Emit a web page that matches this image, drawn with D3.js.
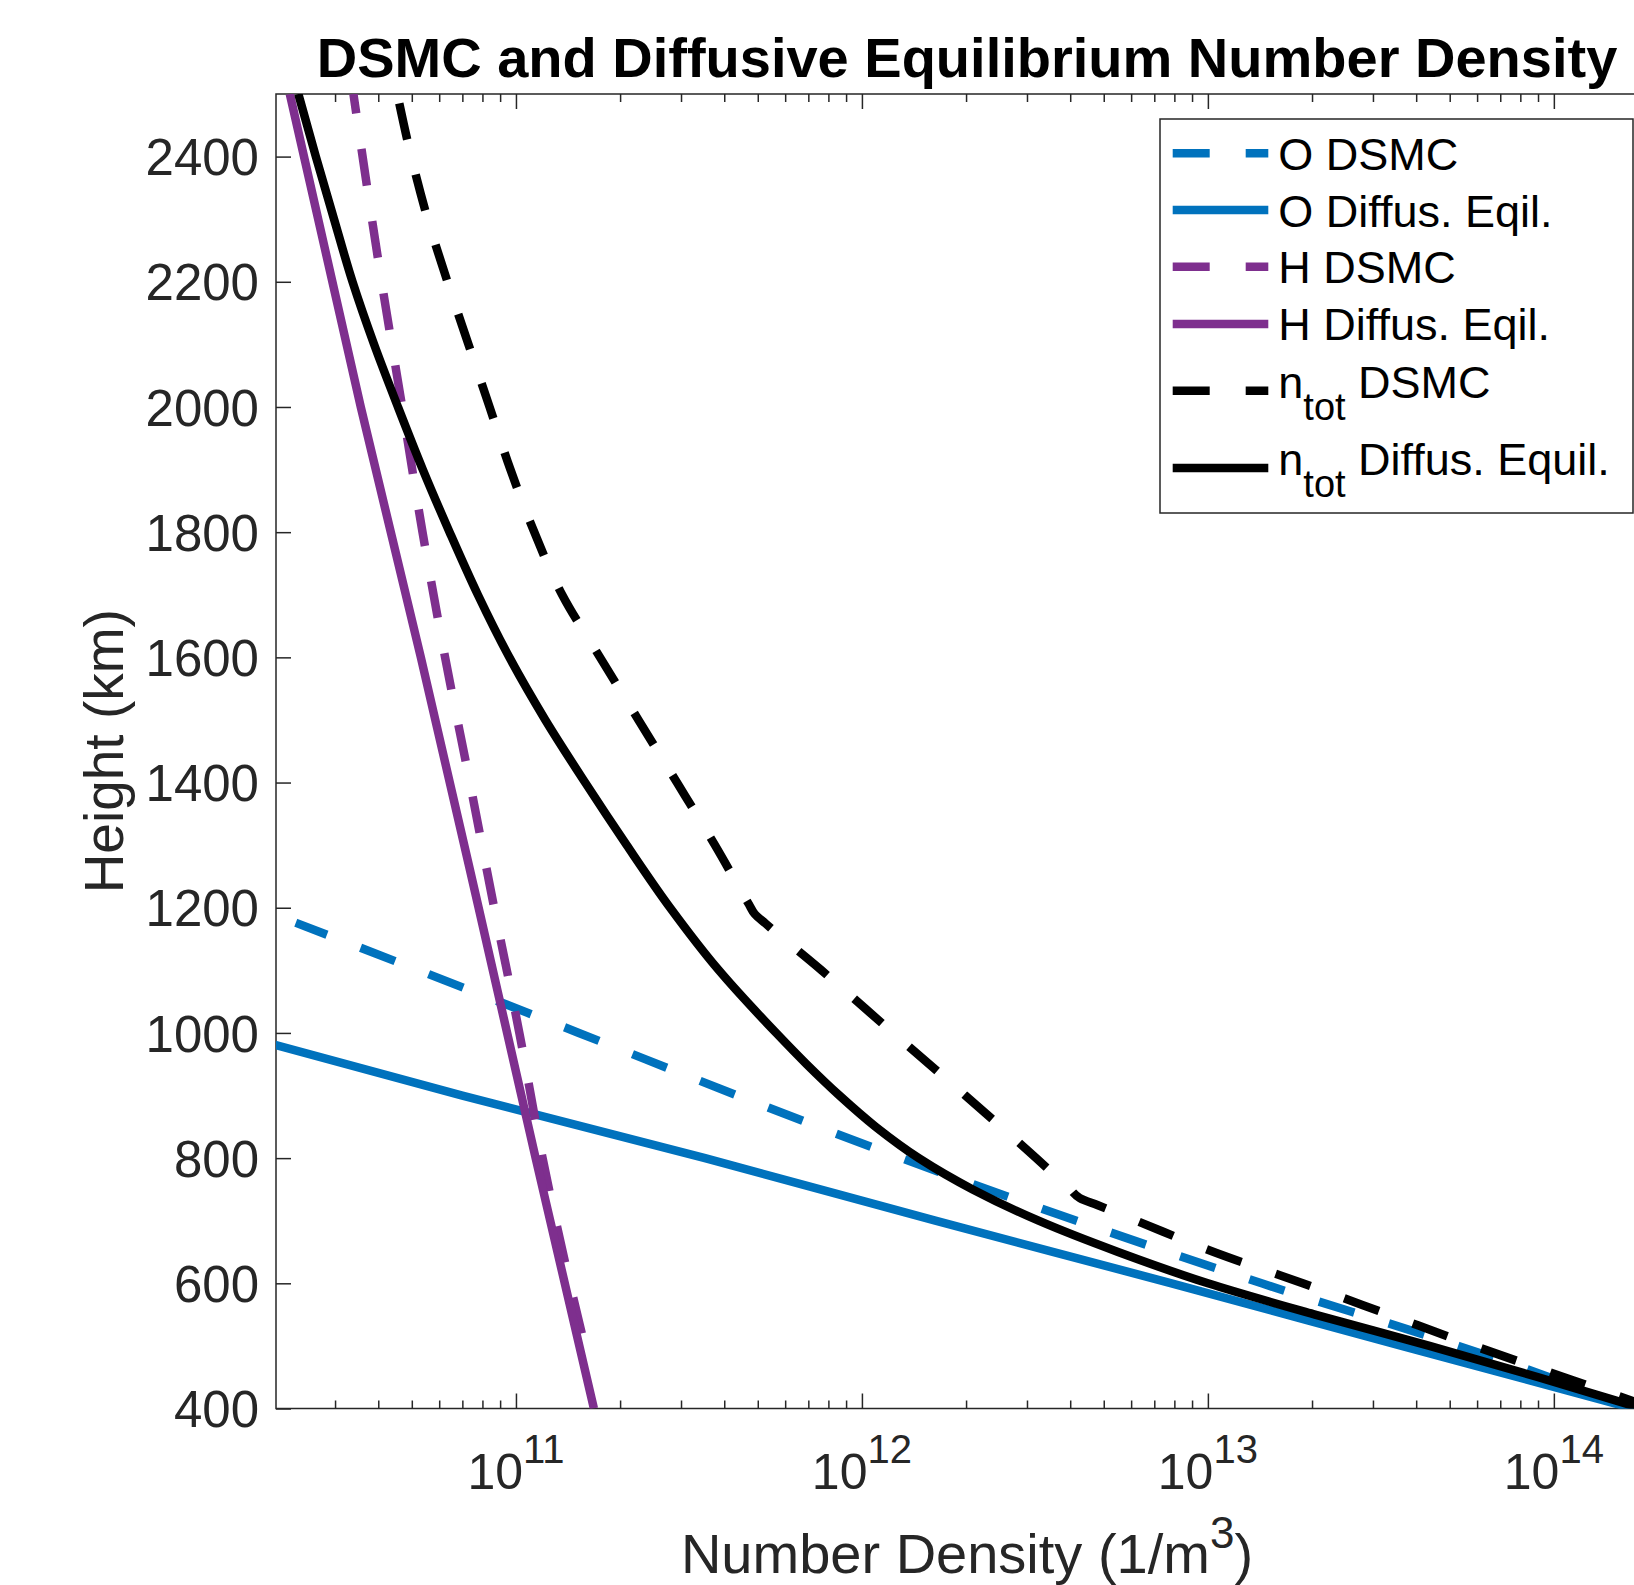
<!DOCTYPE html>
<html>
<head>
<meta charset="utf-8">
<script src="https://cdn.jsdelivr.net/npm/d3@7"></script>
<style>
  body { margin: 0; background: #fff; }
  svg { display: block; font-family: "Liberation Sans", Arial, Helvetica, sans-serif; }
  text { white-space: pre; }
</style>
</head>
<body>
<div id="chart"></div>
<script>
// heights in km, number densities in 1/m^3
var oDsmcHeight  = [400, 450, 500, 600, 700, 800, 900, 1000, 1100, 1176];
var oDsmcDensity = [1.66e14, 9.7e13, 5.3e13, 1.43e13, 4.17e12, 1.30e12, 4.37e11, 1.52e11, 5.24e10, 2.31e10];

var oDiffHeight  = [400, 500, 600, 700, 800, 900, 1000];
var oDiffDensity = [1.70e14, 3.63e13, 7.85e12, 1.63e12, 3.52e11, 7.0e10, 1.50e10];

var hDsmcHeight  = [520, 600, 800, 1000, 1200, 1400, 1600, 1800, 2000, 2200, 2500];
var hDsmcDensity = [1.55e11, 1.432e11, 1.194e11, 1.023e11, 8.65e10, 7.36e10, 6.24e10, 5.37e10, 4.69e10, 4.09e10, 3.39e10];

var hDiffHeight  = [400, 800, 1200, 1600, 2000, 2500];
var hDiffDensity = [1.68e11, 1.14e11, 7.8e10, 5.31e10, 3.56e10, 2.22e10];

var totDsmcHeight  = [400, 450, 500, 550, 600, 650, 700, 725, 736, 750, 800, 900, 1000, 1100, 1175, 1190, 1205,
                      1300, 1400, 1500, 1600, 1700, 1800, 1900, 2000, 2100, 2200, 2300, 2400, 2500];
var totDsmcDensity = [1.95e14, 1.07e14, 5.89e13, 3.33e13, 1.88e13, 1.04e13, 6.21e12, 4.79e12, 4.27e12, 4.00e12,
                      3.19e12, 1.99e12, 1.23e12, 7.64e11, 5.26e11, 4.90e11, 4.72e11, 3.76e11, 2.92e11, 2.26e11,
                      1.75e11, 1.36e11, 1.13e11, 9.64e10, 8.39e10, 7.29e10, 6.34e10, 5.56e10, 4.98e10, 4.54e10];

var totDiffHeight  = [400, 450, 500, 550, 600, 650, 700, 750, 800, 850, 900, 950, 1000, 1100, 1200, 1300, 1400,
                      1500, 1600, 1700, 1800, 1900, 2000, 2100, 2200, 2300, 2400, 2500];
var totDiffDensity = [1.80e14, 9.02e13, 4.37e13, 2.04e13, 1.00e13, 5.50e12, 3.24e12, 2.09e12, 1.46e12, 1.096e12,
                      8.61e11, 6.92e11, 5.65e11, 3.86e11, 2.79e11, 2.09e11, 1.585e11, 1.216e11, 9.57e10, 7.76e10,
                      6.43e10, 5.38e10, 4.56e10, 3.89e10, 3.37e10, 2.98e10, 2.64e10, 2.35e10];

var xLimits = [2.025e10, 2e14];
var yLimits = [400, 2500];
var xMajorTicks = [1e11, 1e12, 1e13, 1e14];
var yTicks = [400, 600, 800, 1000, 1200, 1400, 1600, 1800, 2000, 2200, 2400];

var legendMain = ["O DSMC", "O Diffus. Eqil.", "H DSMC", "H Diffus. Eqil.", "n", "n"];
var legendSub  = [null, null, null, null, "tot", "tot"];
var legendRest = [null, null, null, null, " DSMC", " Diffus. Equil."];

var blue = "#0072BD", purple = "#7E2F8E", black = "#000000";
var axisColor = "#262626";

var width = 1634, height = 1585;
var plot = {left: 276, top: 94, right: 1658, bottom: 1408.5};

var svg = d3.select("#chart").append("svg")
	.attr("width", width)
	.attr("height", height);

var x = d3.scaleLog().domain(xLimits).range([plot.left, plot.right]);
var y = d3.scaleLinear().domain(yLimits).range([plot.bottom, plot.top]);

svg.append("defs").append("clipPath").attr("id", "plotClip")
	.append("rect")
	.attr("x", plot.left).attr("y", plot.top)
	.attr("width", plot.right - plot.left)
	.attr("height", plot.bottom - plot.top);

/************************** axes **************************/
var minorTicks = x.ticks().filter(function(d) {
	return xMajorTicks.indexOf(d) < 0;
});

function styleAxis(g) {
	g.attr("color", axisColor);
	g.select(".domain").remove();
	g.selectAll(".tick line").attr("stroke-width", 1.5);
}

// bottom
svg.append("g").attr("transform", "translate(0," + plot.bottom + ")")
	.call(d3.axisBottom(x).tickValues(xMajorTicks).tickSizeInner(-15).tickSizeOuter(0).tickFormat(""))
	.call(styleAxis);
svg.append("g").attr("transform", "translate(0," + plot.bottom + ")")
	.call(d3.axisBottom(x).tickValues(minorTicks).tickSizeInner(-8).tickSizeOuter(0).tickFormat(""))
	.call(styleAxis);
// top
svg.append("g").attr("transform", "translate(0," + plot.top + ")")
	.call(d3.axisTop(x).tickValues(xMajorTicks).tickSizeInner(-15).tickSizeOuter(0).tickFormat(""))
	.call(styleAxis);
svg.append("g").attr("transform", "translate(0," + plot.top + ")")
	.call(d3.axisTop(x).tickValues(minorTicks).tickSizeInner(-8).tickSizeOuter(0).tickFormat(""))
	.call(styleAxis);
// left with labels
var gy = svg.append("g").attr("transform", "translate(" + plot.left + ",0)")
	.call(d3.axisLeft(y).tickValues(yTicks).tickSizeInner(-15).tickSizeOuter(0).tickPadding(17)
		.tickFormat(d3.format("d")))
	.call(styleAxis);
gy.selectAll(".tick text")
	.attr("font-size", 51)
	.attr("font-family", "Liberation Sans, Arial, sans-serif")
	.attr("dy", "0.355em")
	.attr("fill", axisColor);
// right
svg.append("g").attr("transform", "translate(" + plot.right + ",0)")
	.call(d3.axisRight(y).tickValues(yTicks).tickSizeInner(-15).tickSizeOuter(0).tickFormat(""))
	.call(styleAxis);

// x tick labels 10^k
svg.append("g").selectAll("text")
	.data(xMajorTicks)
	.enter().append("text")
	.attr("x", function(d) { return x(d); })
	.attr("y", 1489)
	.attr("text-anchor", "middle")
	.attr("font-size", 50)
	.attr("fill", axisColor)
	.each(function(d) {
		var t = d3.select(this);
		t.append("tspan").text("10");
		t.append("tspan").attr("font-size", 40).attr("dy", -26).text(Math.round(Math.log10(d)));
	});

// box
svg.append("rect")
	.attr("x", plot.left).attr("y", plot.top)
	.attr("width", plot.right - plot.left)
	.attr("height", plot.bottom - plot.top)
	.attr("fill", "none")
	.attr("stroke", axisColor)
	.attr("stroke-width", 1.5);

/************************** lines **************************/
var series = [
	{h: oDsmcHeight,   n: oDsmcDensity,   color: blue,   dashed: true},
	{h: oDiffHeight,   n: oDiffDensity,   color: blue,   dashed: false},
	{h: hDsmcHeight,   n: hDsmcDensity,   color: purple, dashed: true},
	{h: hDiffHeight,   n: hDiffDensity,   color: purple, dashed: false},
	{h: totDsmcHeight, n: totDsmcDensity, color: black,  dashed: true},
	{h: totDiffHeight, n: totDiffDensity, color: black,  dashed: false}
];

var line = d3.line()
	.x(function(d) { return x(d[1]); })
	.y(function(d) { return y(d[0]); })
	.curve(d3.curveMonotoneY);

svg.append("g").attr("clip-path", "url(#plotClip)")
	.selectAll("path")
	.data(series)
	.enter().append("path")
	.attr("d", function(s) { return line(d3.zip(s.h, s.n)); })
	.attr("fill", "none")
	.attr("stroke", function(s) { return s.color; })
	.attr("stroke-width", 8.5)
	.attr("stroke-linejoin", "round")
	.attr("stroke-dasharray", function(s) { return s.dashed ? "37,36" : null; });

/************************** text **************************/
svg.append("text")
	.attr("x", (plot.left + plot.right) / 2)
	.attr("y", 77)
	.attr("text-anchor", "middle")
	.attr("font-size", 56)
	.attr("font-weight", "bold")
	.attr("fill", "#000")
	.text("DSMC and Diffusive Equilibrium Number Density");

var xlab = svg.append("text")
	.attr("x", (plot.left + plot.right) / 2)
	.attr("y", 1573)
	.attr("text-anchor", "middle")
	.attr("font-size", 56)
	.attr("fill", axisColor);
xlab.append("tspan").text("Number Density (1/m");
xlab.append("tspan").attr("font-size", 44).attr("dy", -25).text("3");
xlab.append("tspan").attr("dy", 25).text(")");

svg.append("text")
	.attr("transform", "translate(123," + ((plot.top + plot.bottom) / 2) + ") rotate(-90)")
	.attr("text-anchor", "middle")
	.attr("font-size", 55)
	.attr("fill", axisColor)
	.text("Height (km)");

/************************** legend **************************/
var legendLineY = [153.3, 210, 266.7, 324, 390.7, 468];
var legendBaseY = [170, 226.7, 283.3, 340, 398.3, 475];

var legend = svg.append("g");
legend.append("rect")
	.attr("x", 1160).attr("y", 119)
	.attr("width", 473).attr("height", 394)
	.attr("fill", "#fff")
	.attr("stroke", axisColor)
	.attr("stroke-width", 1.5);

series.forEach(function(s, i) {
	legend.append("line")
		.attr("x1", 1172.7).attr("x2", 1268.3)
		.attr("y1", legendLineY[i]).attr("y2", legendLineY[i])
		.attr("stroke", s.color)
		.attr("stroke-width", 8.5)
		.attr("stroke-dasharray", s.dashed ? "37,36" : null);
	var t = legend.append("text")
		.attr("x", 1278.3)
		.attr("y", legendBaseY[i])
		.attr("font-size", 45)
		.attr("fill", "#000");
	t.append("tspan").text(legendMain[i]);
	if (legendSub[i]) {
		t.append("tspan").attr("font-size", 38).attr("dy", 21.7).text(legendSub[i]);
		t.append("tspan").attr("font-size", 45).attr("dy", -21.7).text(legendRest[i]);
	}
});
</script>
</body>
</html>
